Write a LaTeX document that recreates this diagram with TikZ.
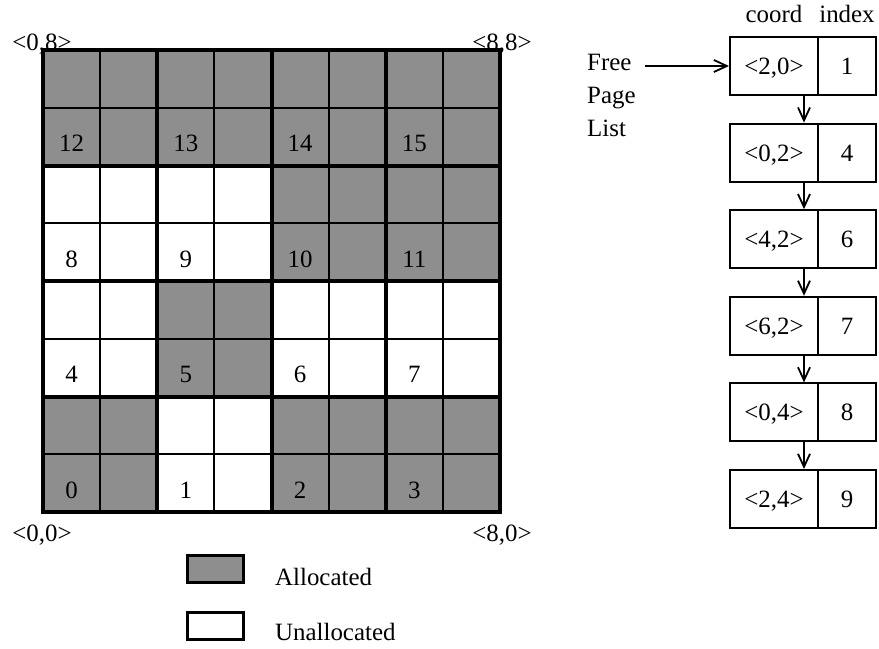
\documentclass[tikz,border=0pt]{standalone}
\usepackage{fontspec}
\setmainfont{Liberation Serif}
\usetikzlibrary{arrows.meta}
\definecolor{allocgray}{RGB}{142,142,142}
\begin{document}
\begin{tikzpicture}[x=1bp,y=-1bp,
  txt/.style={font=\fontsize{25}{28}\selectfont, inner sep=0pt},
  listbox/.style={draw, line width=2bp, minimum height=58bp, inner sep=0pt, text height=17bp, text depth=0bp, font=\fontsize{25}{28}\selectfont},
  coordbox/.style={listbox, minimum width=88bp},
  indexbox/.style={listbox, minimum width=58bp},
  arr/.style={line width=2bp, -{Straight Barb[length=13bp,width=12bp,line width=1.8bp]}},
  thinline/.style={line width=1.8bp},
  thickline/.style={line width=4bp},
  legbox/.style={draw, line width=3bp, minimum width=56bp, minimum height=27bp, inner sep=0pt}]
\useasboundingbox (0,0) rectangle (879,649);
\def\cw{57.125}
\def\ch{57.75}
% page fills and labels
\foreach \p/\c/\r/\f in {0/0/0/allocgray, 1/1/0/white, 2/2/0/allocgray, 3/3/0/allocgray,
                         4/0/1/white, 5/1/1/allocgray, 6/2/1/white, 7/3/1/white,
                         8/0/2/white, 9/1/2/white, 10/2/2/allocgray, 11/3/2/allocgray,
                         12/0/3/allocgray, 13/1/3/allocgray, 14/2/3/allocgray, 15/3/3/allocgray}{
  \pgfmathsetmacro{\xa}{43+2*\c*\cw}
  \pgfmathsetmacro{\xb}{43+2*(\c+1)*\cw}
  \pgfmathsetmacro{\ya}{512-2*(\r+1)*\ch}
  \pgfmathsetmacro{\yb}{512-2*\r*\ch}
  \fill[\f] (\xa,\ya) rectangle (\xb,\yb);
  \pgfmathsetmacro{\lx}{\xa+0.5*\cw}
  \pgfmathsetmacro{\ly}{\yb-14}
  \node[txt, anchor=base] (page\p) at (\lx,\ly) {\p};
}
% thin grid lines
\foreach \i in {1,3,5,7}{
  \pgfmathsetmacro{\gx}{43+\i*\cw}
  \pgfmathsetmacro{\gy}{50+\i*\ch}
  \draw[thinline] (\gx,50) -- (\gx,512);
  \draw[thinline] (43,\gy) -- (500,\gy);
}
% thick page lines
\foreach \i in {2,4,6}{
  \pgfmathsetmacro{\gx}{43+\i*\cw}
  \pgfmathsetmacro{\gy}{50+\i*\ch}
  \draw[thickline] (\gx,50) -- (\gx,512);
  \draw[thickline] (43,\gy) -- (500,\gy);
}
\draw[line width=4.5bp] (43,50) rectangle (500,512);
% corner labels
\node[txt, anchor=base] (tl) at (42,51) {<0,8>};
\node[txt, anchor=base] (tr) at (502,51) {<8,8>};
\node[txt, anchor=base] (bl) at (42,541) {<0,0>};
\node[txt, anchor=base] (br) at (502,541) {<8,0>};
% legend
\node[legbox, fill=allocgray] (legA) at (215,568.5) {};
\node[txt, anchor=base west] (legAt) at (275,585) {Allocated};
\node[legbox, fill=white] (legU) at (215,626) {};
\node[txt, anchor=base west] (legUt) at (275,640) {Unallocated};
% free page list
\node[txt, anchor=base] (hcoord) at (774,23) {coord};
\node[txt, anchor=base] (hindex) at (847,23) {index};
\node[txt, anchor=base west] (free) at (587,71) {Free};
\node[txt, anchor=base west] (pagew) at (587,104) {Page};
\node[txt, anchor=base west] (listw) at (587,137) {List};
\foreach \co/\ix [count=\n] in {<2{,}0>/1, <0{,}2>/4, <4{,}2>/6, <6{,}2>/7, <0{,}4>/8, <2{,}4>/9}{
  \pgfmathsetmacro{\by}{66+(\n-1)*86.6}
  \node[coordbox] (c\n) at (774,\by) {\co};
  \node[indexbox] (i\n) at (847,\by) {\ix};
}
\foreach \a/\b in {1/2,2/3,3/4,4/5,5/6}{
  \draw[arr] ([xshift=30bp]c\a.south) -- ([xshift=30bp]c\b.north);
}
\coordinate (fs) at (645,66);
\draw[arr] (fs) -- (c1.west);
\end{tikzpicture}
\end{document}
